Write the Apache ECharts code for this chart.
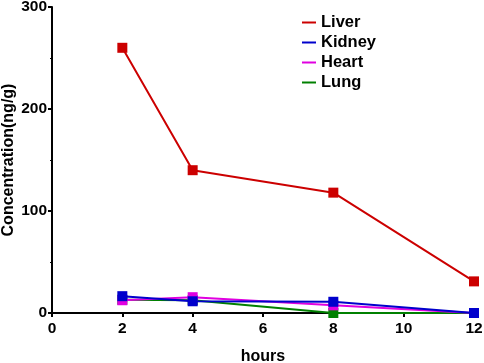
<!DOCTYPE html>
<html>
<head>
<meta charset="utf-8">
<script src="https://cdn.jsdelivr.net/npm/echarts@6/dist/echarts.min.js"></script>
<style>
  html, body { margin: 0; padding: 0; background: #fff; }
  #chart { width: 484px; height: 363px; }
</style>
</head>
<body>
<div id="chart"></div>
<script>
const hours = [2, 4, 8, 12];
const liver = [260, 140, 118, 31];
const kidney = [16.5, 11.5, 11, 0];
const heart = [12.5, 15.5, 7.5, 0];
const lung = [13, 12.5, 0, 0];

const pairs = (vals) => hours.map((h, i) => [h, vals[i]]);

const font = 'Liberation Sans, Arial, sans-serif';

const makeSeries = (name, vals, color, z) => ({
  name,
  type: 'line',
  data: pairs(vals),
  symbol: 'rect',
  symbolSize: 10,
  z,
  lineStyle: { color, width: 2 },
  itemStyle: { color },
  emphasis: { disabled: true },
  animation: false
});

const chart = echarts.init(document.getElementById('chart'), null, { renderer: 'canvas' });

chart.setOption({
  animation: false,
  grid: { left: 52, right: 10, top: 7, bottom: 50, containLabel: false, outerBoundsMode: 'none' },
  legend: {
    orient: 'vertical',
    left: 297,
    top: 9,
    itemWidth: 14,
    itemHeight: 2,
    itemGap: 3,
    icon: 'rect',
    data: ['Liver', 'Kidney', 'Heart', 'Lung'],
    textStyle: { fontFamily: font, fontWeight: 'bold', fontSize: 16.5, color: '#000', lineHeight: 16 }
  },
  xAxis: {
    type: 'value',
    min: 0,
    max: 12,
    interval: 2,
    name: 'hours',
    nameLocation: 'middle',
    nameGap: 36,
    nameMoveOverlap: false,
    nameTextStyle: { fontFamily: font, fontWeight: 'bold', fontSize: 16, color: '#000' },
    axisLine: { show: true, onZero: false, lineStyle: { color: '#000', width: 2 } },
    axisTick: { show: true, length: 4, lineStyle: { color: '#000', width: 2 } },
    axisLabel: { fontFamily: font, fontWeight: 'bold', fontSize: 15.5, color: '#000', margin: 8 },
    splitLine: { show: false }
  },
  yAxis: {
    type: 'value',
    min: 0,
    max: 300,
    interval: 100,
    name: 'Concentration(ng/g)',
    nameLocation: 'middle',
    nameGap: 35,
    nameMoveOverlap: false,
    nameTextStyle: { fontFamily: font, fontWeight: 'bold', fontSize: 16, color: '#000' },
    axisLine: { show: true, lineStyle: { color: '#000', width: 2 } },
    axisTick: { show: true, length: 4, lineStyle: { color: '#000', width: 2 } },
    minorTick: { show: true, splitNumber: 2, length: 2, lineStyle: { color: '#000', width: 1 } },
    axisLabel: { fontFamily: font, fontWeight: 'bold', fontSize: 15.5, color: '#000', margin: 5 },
    splitLine: { show: false }
  },
  series: [
    makeSeries('Liver', liver, '#cc0000', 5),
    makeSeries('Kidney', kidney, '#0000cc', 8),
    makeSeries('Heart', heart, '#e000e0', 7),
    makeSeries('Lung', lung, '#008000', 6)
  ]
});
</script>
</body>
</html>
